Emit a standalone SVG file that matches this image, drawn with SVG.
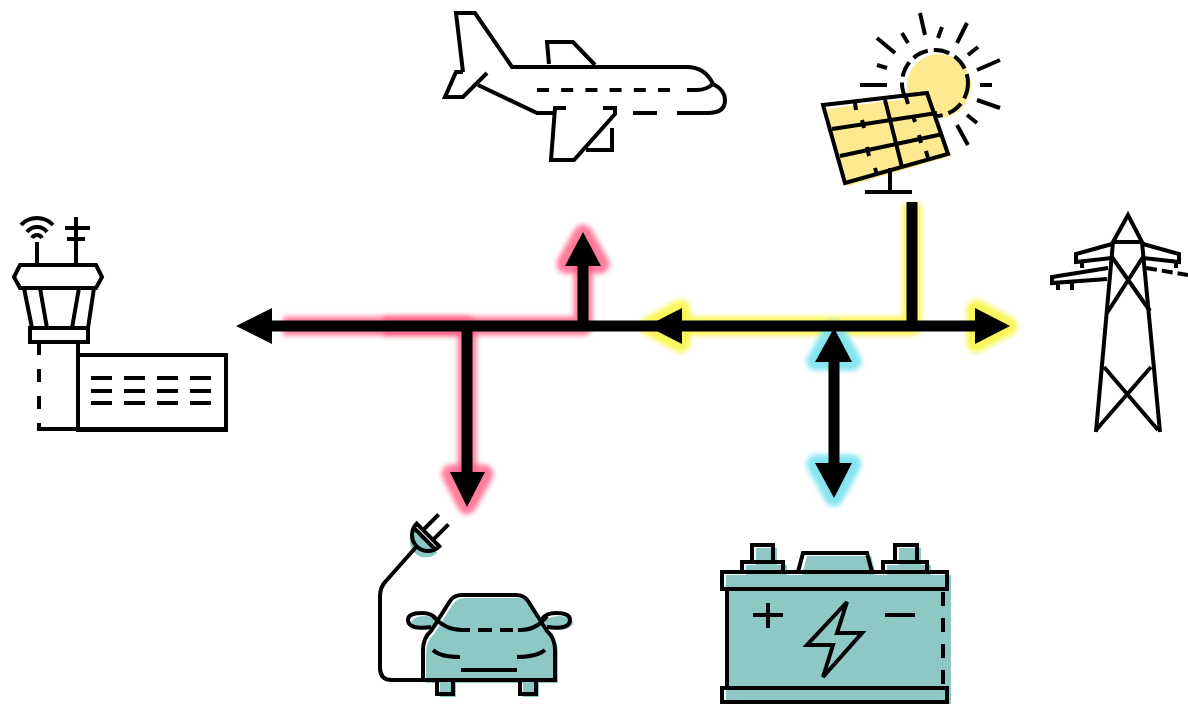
<svg xmlns="http://www.w3.org/2000/svg" width="1188" height="704" viewBox="0 0 1188 704">
  <defs>
    <style>
      .ln { fill: none; stroke: #000; stroke-width: 4; stroke-linejoin: miter; stroke-linecap: butt; }
      .wire { fill: none; stroke: #000; stroke-width: 11; stroke-linejoin: round; }
      .head { fill: #000; }
      .glow { fill: none; stroke-width: 19; stroke-linejoin: round; filter: url(#soft); }
      .red { stroke: #ff5c84; opacity: 0.8; }
      .yel { stroke: #f9f65a; }
      .cya { stroke: #86e4f0; }
      .teal { fill: #8dc8c5; }
      .sun { fill: #fde98f; }
    </style>
    <filter id="soft" x="-50%" y="-50%" width="200%" height="200%">
      <feGaussianBlur stdDeviation="2.6"/>
    </filter>
  </defs>
  <rect width="1188" height="704" fill="#fff"/>

  <!-- glow halos under the power flows -->
  <g id="glows">
    <path class="glow red" d="M283,326 H583 V244"/>
    <polygon class="glow red" points="583,234 566,264 600,264" stroke-width="8"/>
    <path class="glow red" d="M383,326 H467 V480"/>
    <polygon class="glow red" points="467,505 451,474 484,474" stroke-width="8"/>
    <path class="glow yel" d="M912,204 V326 H660"/>
    <polygon class="glow yel" points="649,326 681,309 681,343" stroke-width="8"/>
    <path class="glow yel" d="M912,326 H985"/>
    <polygon class="glow yel" points="1008,326 976,309 976,343" stroke-width="8"/>
    <path class="glow cya" d="M834,340 V485"/>
    <polygon class="glow cya" points="834,330 816,361 852,361" stroke-width="8"/>
    <polygon class="glow cya" points="834,497 816,464 852,464" stroke-width="8"/>
  </g>

  <!-- connectors -->
  <g id="connectors">
    <path class="wire" d="M268,326 H978"/>
    <polygon class="head" points="236,326 272,308 272,344"/>
    <path class="wire" d="M467,326 V476"/>
    <polygon class="head" points="467,507 450,472 485,472"/>
    <path class="wire" d="M583,326 V262"/>
    <polygon class="head" points="583,232 565,266 601,266"/>
    <path class="wire" d="M912,202 V326" stroke-linejoin="miter"/>
    <polygon class="head" points="647,326 682,308 682,344"/>
    <polygon class="head" points="1010,326 975,308 975,344"/>
    <path class="wire" d="M834,355 V470" stroke-linejoin="miter"/>
    <polygon class="head" points="834,328 815,362 852,362"/>
    <polygon class="head" points="834,498 815,463 852,463"/>
  </g>

  <!-- control tower and terminal -->
  <g id="airport">
    <path class="ln" d="M21,225 A22,22 0 0 1 53,225 M27,232 A12.5,12.5 0 0 1 47,232 M32,238 A5.7,5.7 0 0 1 42,238"/>
    <path class="ln" d="M37,242 V265 M76,217 V265 M65,228 H90 M67,239 H85"/>
    <path class="ln" d="M20,265 H96 L102,277 L96,288 H20 L14,277 Z"/>
    <path class="ln" d="M24,288 L32,328 M94,288 L88,328 M40,288 L47,328 M79,288 L72,328"/>
    <rect class="ln" x="30" y="328" width="58" height="14"/>
    <path class="ln" d="M39,342 V430" stroke-dasharray="13 14"/>
    <path class="ln" d="M78,342 V430 M37,429 H226"/>
    <rect class="ln" x="78" y="355" width="148" height="75"/>
    <path class="ln" d="M91,378 H112 M124,378 H145 M157,378 H178 M190,378 H211 M91,391 H112 M124,391 H145 M157,391 H178 M190,391 H211 M91,403 H112 M124,403 H145 M157,403 H178 M190,403 H211"/>
  </g>

  <!-- aircraft -->
  <g id="airplane">
    <path class="ln" d="M463,72 L456,13 H475 L512,67 H687 Q705,67 713,84 Q725,90 725,100 Q725,113 708,113 H677"/>
    <path class="ln" d="M463,72 H456 L445,97 H463 L487,73"/>
    <path class="ln" d="M478,85 L537,113 H553"/>
    <path class="ln" d="M566,108 H555 L551,160 H574 L615,114 V108 H603"/>
    <path class="ln" d="M612,128 V150 H586"/>
    <path class="ln" d="M633,113 H657"/>
    <path class="ln" d="M537,90 H672" stroke-dasharray="12 12.2"/>
    <path class="ln" d="M687,90 H697 Q706,90 713,84"/>
    <path class="ln" d="M549,64 L547,42 H573 L595,65"/>
  </g>

  <!-- solar panel with sun -->
  <g id="solar">
    <circle class="sun" cx="939" cy="86" r="32"/>
    <circle class="ln" cx="935" cy="83" r="33" stroke-dasharray="16 6"/>
    <path class="ln" d="M920,13 L925,35 M942,27 L938,38 M967,23 L957,43 M978,47 L968,55 M1000,60 L977,70 M992,85 L980,85 M1000,108 L977,100 M977,123 L967,115 M968,145 L957,125 M860,85 L887,85 M877,65 L887,68 M877,38 L895,53 M902,33 L908,43"/>
    <polygon class="sun" points="826,109 930,96 951,156 848,186"/>
    <polygon class="ln" points="823,105 927,93 948,154 845,183" fill="none"/>
    <path class="ln" d="M885,100 L902,167 M832,129 L937,113 M840,156 L943,134"/>
    <path class="ln" d="M855,103 L856,110 M862,120 L864,128 M867,147 L869,156 M875,168 L877,175 M906,97 L908,104 M913,116 L915,122 M919,135 L921,143 M926,151 L928,158" stroke-width="3"/>
    <path class="ln" d="M890,168 V192 M865,192 H912"/>
  </g>

  <!-- transmission pylon -->
  <g id="pylon">
    <path class="ln" d="M1113,242 L1128,215 L1142,242 Z"/>
    <path class="ln" d="M1113,242 L1096,432 M1142,242 L1160,432"/>
    <path class="ln" d="M1112,257 L1150,311 M1143,257 L1107,313"/>
    <path class="ln" d="M1104,367 L1158,430 M1151,367 L1096,430"/>
    <path class="ln" d="M1112,244 L1076,254 V262 L1112,258 M1082,262 V268"/>
    <path class="ln" d="M1143,244 L1179,254 V262 L1143,258 M1176,262 V268"/>
    <path class="ln" d="M1108,268 L1052,277 V283 L1107,279 M1058,283 V290 M1072,283 V290"/>
    <path class="ln" d="M1146,268 L1188,275" stroke-dasharray="11 5"/>
  </g>

  <!-- electric car with charging plug -->
  <g id="car">
    <g transform="translate(428,535) rotate(45)">
      <path class="teal" d="M-13,6 H19 A16,16 0 0 1 -13,6 Z"/>
      <path class="ln" d="M-16,0 H16 A16,16 0 0 1 -16,0 Z M-15.2,5 H15.2 M-7,0 V-22 M7,0 V-22"/>
    </g>
    <path class="ln" d="M417,546 L386,581 Q380,587 380,596 V668 Q380,680 392,680 H437"/>
    <g transform="translate(3,3)" class="teal">
      <ellipse cx="422" cy="620" rx="14" ry="7"/>
      <ellipse cx="556" cy="620" rx="14" ry="7"/>
      <path d="M423,680 V650 Q423,638 431,631 L450,601 Q454,595 462,595 H516 Q524,595 528,601 L547,631 Q555,638 555,650 V680 Z"/>
      <rect x="437" y="680" width="16" height="14"/>
      <rect x="520" y="680" width="16" height="14"/>
    </g>
    <path class="ln" d="M431,627 Q408,630 408,620 Q408,613 422,613 Q432,613 436,619"/>
    <path class="ln" d="M547,627 Q570,630 570,620 Q570,613 556,613 Q546,613 542,619"/>
    <path class="ln" d="M423,680 V650 Q423,638 431,631 L450,601 Q454,595 462,595 H516 Q524,595 528,601 L547,631 Q555,638 555,650 V680 Z"/>
    <rect class="ln" x="437" y="680" width="16" height="14"/>
    <rect class="ln" x="520" y="680" width="16" height="14"/>
    <path class="ln" d="M433,616 Q445,630 462,630 H470 M478,630 H492 M500,630 H513 M518,630 H520 Q537,630 547,616"/>
    <path class="ln" d="M433,650 Q440,657 460,657 M517,657 Q537,657 545,650 M461,670 H517"/>
  </g>

  <!-- car battery -->
  <g id="battery">
    <g transform="translate(4,3)" class="teal">
      <rect x="752" y="545" width="21" height="20"/>
      <rect x="895" y="545" width="22" height="20"/>
      <rect x="742" y="562" width="41" height="12"/>
      <rect x="883" y="562" width="44" height="12"/>
      <path d="M798,572 L803,553 H867 L872,572 Z"/>
      <rect x="722" y="572" width="225" height="131"/>
    </g>
    <rect class="ln" x="752" y="545" width="21" height="17"/>
    <rect class="ln" x="895" y="545" width="22" height="17"/>
    <path class="ln" d="M742,572 V562 H783 V572 M883,572 V562 H927 V572"/>
    <path class="ln" d="M798,572 L803,553 H867 L872,572"/>
    <rect class="ln" x="722" y="572" width="225" height="17"/>
    <path class="ln" d="M727,589 V688"/>
    <path class="ln" d="M943,592 V688" stroke-dasharray="14 12"/>
    <rect class="ln" x="722" y="688" width="225" height="14"/>
    <path class="ln" d="M768,603 V628 M753,615 H783 M885,615 H915"/>
    <polygon class="ln" points="847,602 807,645 833,645 823,677 862,633 837,633"/>
  </g>
</svg>
